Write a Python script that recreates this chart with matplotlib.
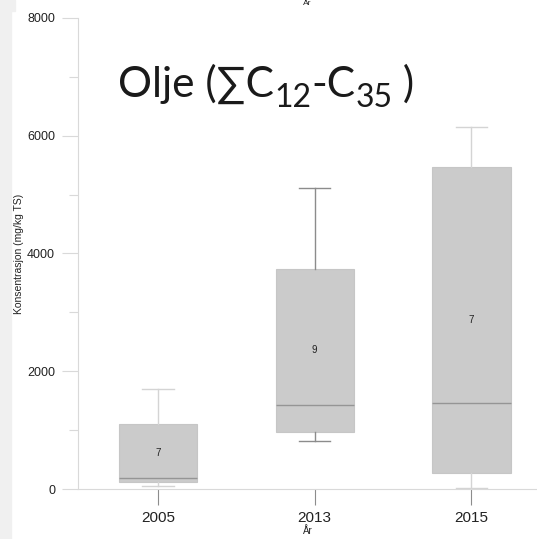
import matplotlib.pyplot as plt
from matplotlib.patches import Rectangle
from matplotlib.transforms import offset_copy
import numpy as np

# box statistics (mg/kg TS)
years = ["2005", "2013", "2015"]
whislo = [56, 815, 17]
q1 = [124, 973, 272]
med = [187, 1427, 1466]
q3 = [1104, 3737, 5469]
whishi = [1699, 5113, 6149]
counts = [7, 9, 7]
whisker_cols = ["#d4d4d4", "#8c8c8c", "#d4d4d4"]

plt.rcParams['font.family'] = ['Liberation Sans', 'DejaVu Sans']

fig = plt.figure(figsize=(5.37, 5.39), dpi=100)
fig.patches.append(Rectangle((0, 0), 11/537, 1, transform=fig.transFigure,
                             color="#f0f0f0", zorder=-5))
fig.patches.append(Rectangle((0, 1 - 11/539), 15/537, 11/539, transform=fig.transFigure,
                             color="#f0f0f0", zorder=-5))

ax = fig.add_axes([78/537, 50/539, 459/537, 471/539])

stats = []
for i in range(len(years)):
    stats.append(dict(whislo=whislo[i], q1=q1[i], med=med[i], q3=q3[i],
                      whishi=whishi[i], fliers=[], label=years[i]))

pos = np.arange(1, len(years) + 1)
bp = ax.bxp(stats, positions=pos, widths=0.5, patch_artist=True,
            showfliers=False,
            boxprops=dict(facecolor="#cbcbcb", edgecolor="#c6c6c6", linewidth=0.8),
            medianprops=dict(color="#959595", linewidth=1.0),
            capwidths=0.2)
for i in range(len(years)):
    for w in bp['whiskers'][2*i:2*i+2]:
        w.set_color(whisker_cols[i])
        w.set_linewidth(1.0)
    for c in bp['caps'][2*i:2*i+2]:
        c.set_color(whisker_cols[i])
        c.set_linewidth(1.0)
    ax.text(pos[i], (q1[i] + q3[i]) / 2, str(counts[i]), ha='center', va='center',
            fontsize=7, color="#222222")

ax.set_xlim(0.49, 3.418)
ax.set_ylim(0, 8000)
ax.set_yticks([0, 2000, 4000, 6000, 8000])
ax.set_yticks([1000, 3000, 5000, 7000], minor=True)
ax.set_xticks(pos)
ax.set_xticklabels(years)

for s in ['top', 'right']:
    ax.spines[s].set_visible(False)
for s in ['left', 'bottom']:
    ax.spines[s].set_color("#d9d9d9")
    ax.spines[s].set_linewidth(0.8)

ax.tick_params(axis='y', which='major', length=11.5, width=0.8, color="#d9d9d9",
               labelsize=9, pad=5, labelcolor="#222222")
ax.tick_params(axis='y', which='minor', length=6.5, width=0.8, color="#d9d9d9")
ax.tick_params(axis='x', which='major', length=11.5, width=0.8, color="#8c8c8c",
               labelsize=11, pad=4, labelcolor="#222222")

ax.set_xlabel("År", fontsize=7, labelpad=1, color="#222222")
ax.set_ylabel("Konsentrasjon (mg/kg TS)", fontsize=7.5, color="#222222")
ax.yaxis.set_label_coords(-0.118, 0.5)

# title pieces with subscripts, laid out one after another
big = 30.5
small = 23
pieces = [("Olje (∑C", big, 0), ("12", small, -10), ("-C", big, 0),
          ("35", small, -10), (" )", big, 0)]
renderer = fig.canvas.get_renderer()
trans = fig.transFigure
x0, y0 = 118/537, 1 - 97/539
for s, fs, dy in pieces:
    t = fig.text(x0, y0, s, fontsize=fs, color="#1a1a1a", va='baseline', ha='left',
                 family=['Lato', 'DejaVu Sans'],
                 transform=offset_copy(trans, fig=fig, y=dy, units='dots'))
    ex = t.get_window_extent(renderer)
    trans = offset_copy(trans, fig=fig, x=ex.width, units='dots')

fig.text(307/537, 1.0, "År", fontsize=6, ha='center', va='top', color="#222222")

fig.savefig("out.png", dpi=100)
